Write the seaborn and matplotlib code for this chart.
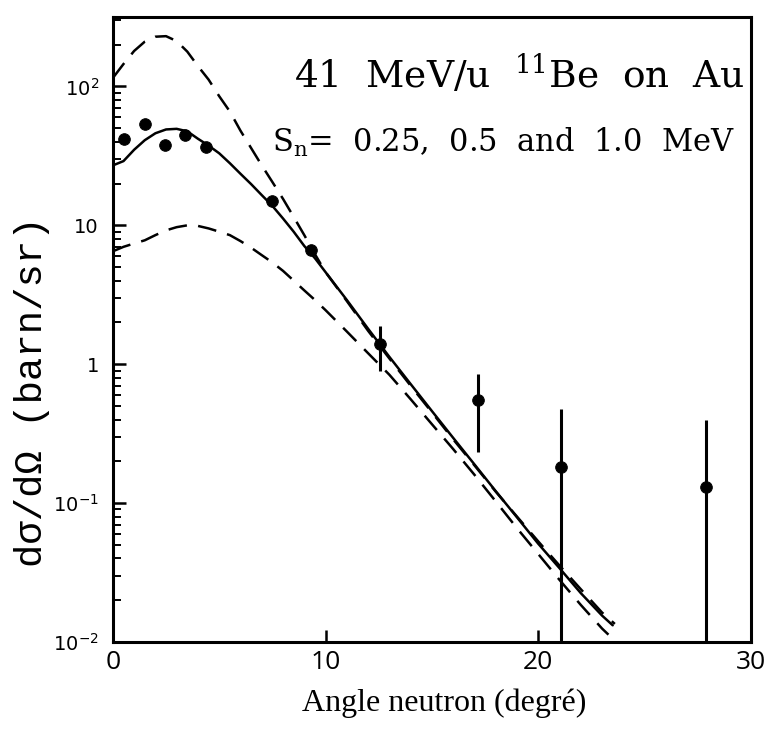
import numpy as np
import pandas as pd
import matplotlib
matplotlib.use("Agg")
import matplotlib.pyplot as plt
import seaborn as sns

# measured points (angle in degrees, d sigma / d Omega in barn/sr)
exp_angle = [0.53, 1.5, 2.44, 3.41, 4.4, 7.48, 9.33, 12.54, 17.15, 21.07, 27.9]
exp_value = [42, 54, 38, 44.6, 36.6, 15, 6.6, 1.39, 0.553, 0.181, 0.13]
exp_low = [42, 54, 38, 44.6, 36.6, 15, 6.6, 0.895, 0.232, 0.005, 0.005]
exp_high = [42, 54, 38, 44.6, 36.6, 15, 6.6, 1.89, 0.847, 0.48, 0.40]

# calculation, solid curve
solid_angle = [0.0, 0.5, 1.0, 1.5, 2.0, 2.5, 3.0, 3.5, 4.0, 4.5, 5.0, 5.5, 6.0, 6.5,
               7.0, 7.5, 8.0, 8.5, 9.0, 9.5, 10, 11, 12, 13, 14, 15, 16, 17, 18,
               19, 20, 21, 22, 23, 23.5]
solid_value = [27, 29, 35, 41, 46, 49, 49.5, 47.5, 42, 37.5, 33, 28, 23.5, 19.8,
               16.5, 13.8, 11.2, 9.0, 7.1, 5.8, 4.6, 2.9, 1.8, 1.13, 0.72, 0.46,
               0.295, 0.19, 0.122, 0.079, 0.051, 0.034, 0.0225, 0.0155, 0.0132]

# upper dashed curve
upper_angle = [0.0, 0.5, 1.0, 1.5, 2.0, 2.5, 3.0, 3.5, 4.0, 4.5, 5.0, 5.5, 6.0, 6.5,
               7.0, 7.5, 8.0, 8.5, 9.0, 9.5, 10, 11, 12, 13, 14, 15, 16, 17, 18,
               19, 20, 21, 22, 23, 23.6]
upper_value = [115, 145, 180, 210, 228, 230, 212, 178, 140, 112, 85, 66, 48, 36,
               27, 20.5, 15.5, 11.5, 8.5, 6.2, 4.6, 2.85, 1.74, 1.1, 0.7, 0.45,
               0.288, 0.187, 0.121, 0.08, 0.053, 0.0355, 0.024, 0.0163, 0.0135]

# lower dashed curve
lower_angle = [0.0, 0.5, 1.0, 1.5, 2.0, 2.5, 3.0, 3.5, 4.0, 4.5, 5.0, 5.5, 6.0, 6.5,
               7.0, 7.5, 8.0, 8.5, 9.0, 9.5, 10, 11, 12, 13, 14, 15, 16, 17, 18,
               19, 20, 21, 22, 23, 23.3]
lower_value = [6.5, 7.0, 7.4, 7.8, 8.5, 9.2, 9.7, 10.0, 9.9, 9.5, 9.0, 8.5, 7.7, 6.9,
               6.1, 5.4, 4.7, 4.0, 3.4, 2.9, 2.45, 1.72, 1.2, 0.84, 0.56, 0.37,
               0.245, 0.16, 0.103, 0.066, 0.043, 0.028, 0.0185, 0.0125, 0.0113]

y_ticks = [0.01, 0.1, 1, 10, 100]
y_tick_labels = [r"$10^{-2}$", r"$10^{-1}$", "1", "10", r"$10^{2}$"]
x_ticks = [0, 10, 20, 30]

sns.set_style("ticks")
plt.rcParams["font.family"] = ["DejaVu Sans"]
plt.rcParams["mathtext.fontset"] = "dejavusans"
for key in ["text.color", "axes.labelcolor", "xtick.color", "ytick.color"]:
    plt.rcParams[key] = "black"

fig = plt.figure(figsize=(7.73, 7.30), dpi=100)
ax = fig.add_axes([0.146, 0.1205, 0.8255, 0.8562])

curves = pd.concat([
    pd.DataFrame({"angle": solid_angle, "xs": solid_value, "curve": "solid"}),
    pd.DataFrame({"angle": upper_angle, "xs": upper_value, "curve": "upper"}),
    pd.DataFrame({"angle": lower_angle, "xs": lower_value, "curve": "lower"}),
])
sns.lineplot(data=curves, x="angle", y="xs", hue="curve", style="curve",
             palette={"solid": "black", "upper": "black", "lower": "black"},
             dashes={"solid": "", "upper": (7.5, 4.5), "lower": (7.5, 4.5)},
             linewidth=1.8, legend=False, sort=False, estimator=None, ax=ax)

pts = pd.DataFrame({"angle": exp_angle, "xs": exp_value,
                    "lo": exp_low, "hi": exp_high})
ax.vlines(pts["angle"], pts["lo"], pts["hi"], color="black", linewidth=2.2)
sns.scatterplot(data=pts, x="angle", y="xs", color="black", s=70,
                edgecolor="black", zorder=5, ax=ax)

ax.set_yscale("log")
ax.set_xlim(0, 30)
ax.set_ylim(0.01, 316)
ax.set_yticks(y_ticks)
ax.set_yticklabels(y_tick_labels, fontsize=14)
ax.set_xticks(x_ticks)
ax.set_xticklabels([str(t) for t in x_ticks], fontsize=19, family="Open Sans")
ax.yaxis.set_minor_locator(matplotlib.ticker.LogLocator(base=10, subs=np.arange(2, 10)))
ax.yaxis.set_minor_formatter(matplotlib.ticker.NullFormatter())
ax.tick_params(axis="both", which="major", direction="in", length=9, width=1.8)
ax.tick_params(axis="y", which="minor", direction="in", length=6, width=1.4)
ax.tick_params(axis="x", pad=6)
ax.tick_params(axis="y", pad=10)
for s in ax.spines.values():
    s.set_linewidth(2.2)
    s.set_color("black")

ax.set_xlabel("Angle neutron (degré)", fontsize=23, family="Liberation Serif",
              va="center")
ax.xaxis.set_label_coords(0.519, -0.098)
ax.set_ylabel("dσ/dΩ (barn/sr)", fontsize=28, family="Liberation Mono",
              va="center")
ax.yaxis.set_label_coords(-0.127, 0.40)

ax.text(0.99, 0.886, r"41  MeV/u  $^{\mathregular{11}}$Be  on  Au",
        transform=ax.transAxes, ha="right", va="baseline",
        fontsize=27, family="DejaVu Serif")
ax.text(0.975, 0.784, r"S$_{\mathregular{n}}$=  0.25,  0.5  and  1.0  MeV",
        transform=ax.transAxes, ha="right", va="baseline",
        fontsize=22, family="DejaVu Serif")

fig.savefig("out.png", dpi=100)
